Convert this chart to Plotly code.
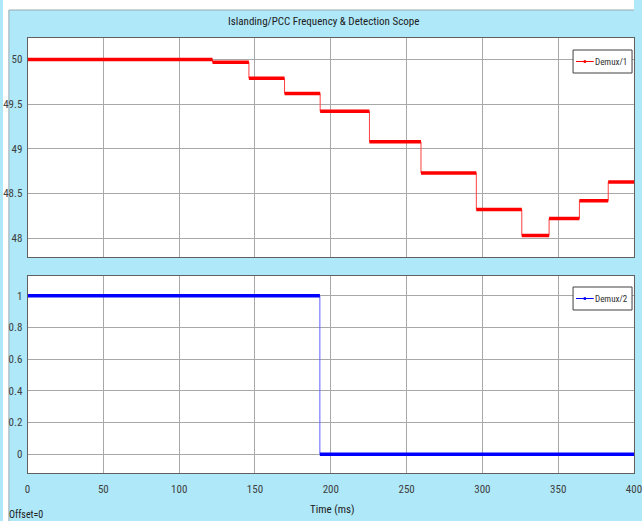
import plotly.graph_objects as go

# ---- data ----
freq_edges = [0, 122, 146, 169.5, 193, 225.5, 259.5, 296, 326, 344, 364, 383, 400]  # ms
freq_vals = [50.0, 49.97, 49.79, 49.62, 49.42, 49.08, 48.73, 48.32, 48.03, 48.22, 48.42, 48.63]  # Hz
det_edges = [0, 192.8, 400]  # ms
det_vals = [1, 0]

x_ticks = [0, 50, 100, 150, 200, 250, 300, 350, 400]
y1_ticks = [48, 48.5, 49, 49.5, 50]
y1_labels = ["48", "48.5", "49", "49.5", "50"]
y2_ticks = [0, 0.2, 0.4, 0.6, 0.8, 1]
y2_labels = ["0", "0.2", "0.4", "0.6", "0.8", "1"]
series_names = ["Demux/1", "Demux/2"]
series_colors = ["#FF0000", "#0000FF"]

W, H = 642, 521
FONT = ("Roboto Condensed, Liberation Sans Narrow, DejaVu Sans Condensed, Arial Narrow, "
        "Liberation Sans, Arial, sans-serif")
BLUE_BG = "#AEE8F9"


def px_x(p):
    return min(p / W, 1.0)


def px_y(p):
    return 1 - p / H


def thick_segments(edges, vals):
    xs, ys = [], []
    for i, v in enumerate(vals):
        xs += [edges[i], edges[i + 1], None]
        ys += [v, v, None]
    return xs, ys


def step_points(edges, vals):
    return list(edges), list(vals) + [vals[-1]]


fig = go.Figure()

# top: frequency
sx, sy = step_points(freq_edges, freq_vals)
fig.add_trace(go.Scatter(x=sx, y=sy, mode="lines", line=dict(color="#FF4040", width=1, shape="hv"),
                         showlegend=False, xaxis="x", yaxis="y"))
tx, ty = thick_segments(freq_edges, freq_vals)
fig.add_trace(go.Scatter(x=tx, y=ty, mode="lines", line=dict(color=series_colors[0], width=3.5),
                         name=series_names[0], showlegend=False, xaxis="x", yaxis="y"))

# bottom: detection
sx2, sy2 = step_points(det_edges, det_vals)
fig.add_trace(go.Scatter(x=sx2, y=sy2, mode="lines", line=dict(color="#6060FF", width=1, shape="hv"),
                         showlegend=False, xaxis="x2", yaxis="y2"))
tx2, ty2 = thick_segments(det_edges, det_vals)
fig.add_trace(go.Scatter(x=tx2, y=ty2, mode="lines", line=dict(color=series_colors[1], width=3.5),
                         name=series_names[1], showlegend=False, xaxis="x2", yaxis="y2"))

xdom = [px_x(25), px_x(642)]
y1dom = [px_y(257), px_y(38)]
y2dom = [px_y(473), px_y(276)]

axis_common = dict(showgrid=True, gridcolor="#A8A8A8", gridwidth=1, showline=True, linecolor="#606060",
                   linewidth=1, mirror=True, zeroline=False, ticks="",
                   tickfont=dict(family=FONT, size=11, color="#404040"))

shapes = [
    # white strips outside the scope frame (top and left)
    dict(type="rect", xref="paper", yref="paper", x0=0, x1=1, y0=px_y(10), y1=1,
         fillcolor="white", line=dict(width=0), layer="below"),
    dict(type="rect", xref="paper", yref="paper", x0=0, x1=px_x(6), y0=0, y1=1,
         fillcolor="white", line=dict(width=0), layer="below"),
    dict(type="line", xref="paper", yref="paper", x0=px_x(6), x1=1, y0=px_y(10), y1=px_y(10),
         line=dict(color="#9AAAB0", width=1), layer="below"),
    dict(type="line", xref="paper", yref="paper", x0=px_x(6), x1=px_x(6), y0=0, y1=px_y(10),
         line=dict(color="#9AAAB0", width=1), layer="below"),
]
annotations = [
    dict(text="Islanding/PCC Frequency &amp; Detection Scope", xref="paper", yref="paper", x=px_x(326),
         y=px_y(22), xanchor="center", yanchor="middle", showarrow=False,
         font=dict(family=FONT, size=11, color="#202020")),
    dict(text="Time (ms)", xref="paper", yref="paper", x=px_x(335), y=px_y(509),
         xanchor="center", yanchor="middle", showarrow=False, font=dict(family=FONT, size=11, color="#202020")),
    dict(text="Offset=0", xref="paper", yref="paper", x=px_x(4), y=px_y(514),
         xanchor="left", yanchor="middle", showarrow=False, font=dict(family=FONT, size=10, color="#202020")),
]

# custom compact legends (one per panel), in the scope style
for name, color, top in zip(series_names, series_colors, [50, 287]):
    bx0, bx1, by0, by1 = 580, 640, top, top + 23
    cy = (by0 + by1) / 2
    shapes.append(dict(type="rect", xref="paper", yref="paper", x0=px_x(bx0), x1=px_x(bx1),
                       y0=px_y(by1), y1=px_y(by0), fillcolor="white",
                       line=dict(color="#404040", width=1)))
    shapes.append(dict(type="line", xref="paper", yref="paper", x0=px_x(bx0 + 3), x1=px_x(bx0 + 21),
                       y0=px_y(cy), y1=px_y(cy), line=dict(color=color, width=1)))
    shapes.append(dict(type="circle", xref="paper", yref="paper", x0=px_x(bx0 + 10.5), x1=px_x(bx0 + 13.5),
                       y0=px_y(cy + 1.5), y1=px_y(cy - 1.5), fillcolor=color, line=dict(color=color, width=0)))
    annotations.append(dict(text=name, xref="paper", yref="paper", x=px_x(bx0 + 20), y=px_y(cy),
                            xanchor="left", yanchor="middle", showarrow=False,
                            font=dict(family=FONT, size=9, color="#303030")))

fig.update_layout(
    width=W, height=H,
    autosize=False,
    margin=dict(l=0, r=0, t=0, b=0),
    paper_bgcolor=BLUE_BG,
    plot_bgcolor="white",
    font=dict(family=FONT, size=11, color="#303030"),
    showlegend=False,
    xaxis=dict(domain=xdom, range=[0, 400], anchor="y", tickvals=x_ticks, showticklabels=False, **axis_common),
    yaxis=dict(domain=y1dom, range=[47.79, 50.24], anchor="x", tickvals=y1_ticks, ticktext=y1_labels,
               ticklabelstandoff=2, **axis_common),
    xaxis2=dict(domain=xdom, range=[0, 400], anchor="y2", tickvals=x_ticks,
                ticktext=[str(v) for v in x_ticks], ticklabeloverflow="allow", ticklabelstandoff=6,
                **axis_common),
    yaxis2=dict(domain=y2dom, range=[-0.118, 1.124], anchor="x2", tickvals=y2_ticks, ticktext=y2_labels,
                ticklabelstandoff=2, **axis_common),
    shapes=shapes,
    annotations=annotations,
)

fig.write_html("out.html", config={"displayModeBar": False, "responsive": False},
               post_script="document.body.style.margin='0';document.body.style.padding='0';"
                           "document.body.style.overflow='hidden';")
